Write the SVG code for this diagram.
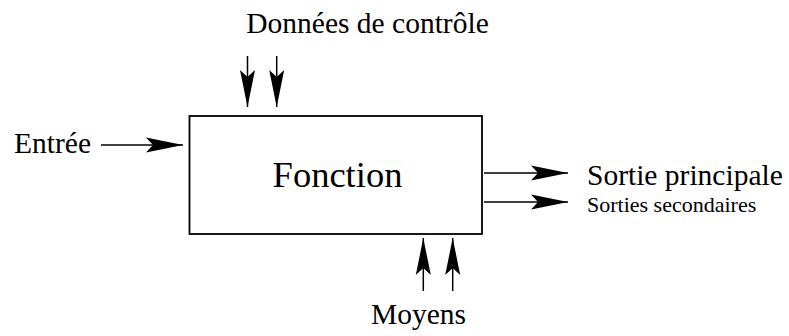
<svg xmlns="http://www.w3.org/2000/svg" width="789" height="336" viewBox="0 0 789 336">
<style>
text{font-family:"Liberation Serif","Times New Roman",serif;fill:#000}
.l{font-size:29.5px}
.s{font-size:22px}
.f{font-size:36.5px}
.c{stroke:#000;stroke-width:1.5;fill:none}
</style>
<defs>
<marker id="ah" markerUnits="userSpaceOnUse" markerWidth="40" markerHeight="20" viewBox="-38 -8 40 16" refX="0" refY="0" orient="auto">
<path d="M0,0 L-37,-7.5 L-30,0 L-37,7.5 Z" fill="#000"/>
</marker>
</defs>
<rect width="789" height="336" fill="#fff"/>
<g id="fonction">
<rect x="189.5" y="116" width="292.5" height="118" fill="#fff" stroke="#000" stroke-width="1.8"/>
<text class="f" x="337.5" y="187" text-anchor="middle">Fonction</text>
</g>
<g id="controle"><text class="l" x="367.5" y="33" text-anchor="middle">Données de contrôle</text></g>
<g id="entree"><text class="l" x="14" y="153">Entrée</text></g>
<g id="sortie-principale"><text class="l" x="587" y="185">Sortie principale</text></g>
<g id="sorties-secondaires"><text class="s" x="587" y="212">Sorties secondaires</text></g>
<g id="moyens"><text class="l" x="418.5" y="324" text-anchor="middle">Moyens</text></g>
<g id="connectors">
<line class="c" x1="247.5" y1="56" x2="247.5" y2="107" marker-end="url(#ah)"/>
<line class="c" x1="276.7" y1="56" x2="276.7" y2="107" marker-end="url(#ah)"/>
<line class="c" x1="101" y1="145" x2="183" y2="145" marker-end="url(#ah)"/>
<line class="c" x1="484" y1="173" x2="568" y2="173" marker-end="url(#ah)"/>
<line class="c" x1="484" y1="202" x2="568" y2="202" marker-end="url(#ah)"/>
<line class="c" x1="423.3" y1="291" x2="423.3" y2="238" marker-end="url(#ah)"/>
<line class="c" x1="452.7" y1="291" x2="452.7" y2="238" marker-end="url(#ah)"/>
</g>
</svg>
